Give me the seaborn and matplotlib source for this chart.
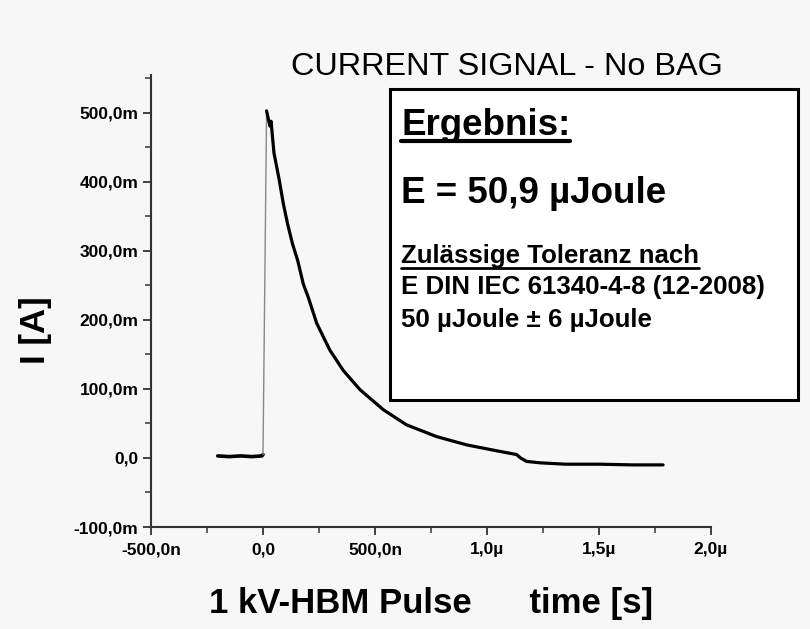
import matplotlib
matplotlib.use("Agg")
import matplotlib.pyplot as plt
from matplotlib.patches import Rectangle
from matplotlib.lines import Line2D
from matplotlib.ticker import FixedLocator, MultipleLocator
import seaborn as sns
import pandas as pd

# waveform: time in ns, current in mA
time_ns = [-202, -150, -100, -50, -5, 0, 16, 24, 31, 36, 49, 73, 91, 110, 132, 155,
           180, 202, 240, 299, 358, 433, 537, 641, 775, 909, 1058, 1132, 1150,
           1177, 1237, 1350, 1500, 1650, 1786]
current_mA = [3, 2, 3, 2, 3, 5, 503, 491, 481, 488, 442, 402, 368, 339, 310, 286,
              252, 233, 195, 156, 127, 99, 70, 48, 31, 19, 9.5, 5, 0,
              -5, -7, -9, -9, -10, -10]

x_ticks = [-500, 0, 500, 1000, 1500, 2000]
x_tick_labels = ["-500,0n", "0,0", "500,0n", "1,0µ", "1,5µ", "2,0µ"]
y_ticks = [-100, 0, 100, 200, 300, 400, 500]
y_tick_labels = ["-100,0m", "0,0", "100,0m", "200,0m", "300,0m", "400,0m", "500,0m"]

title = "CURRENT SIGNAL - No BAG"
result_head = "Ergebnis:"
result_value = "E = 50,9 µJoule"
tol_head = "Zulässige Toleranz nach"
tol_lines = ["E DIN IEC 61340-4-8 (12-2008)", "50 µJoule ± 6 µJoule"]

W, H = 810, 629
BG = "#f7f7f7"

sns.set_style("ticks")
plt.rcParams["font.family"] = ["Liberation Sans", "DejaVu Sans"]
plt.rcParams["text.color"] = "black"

df = pd.DataFrame({"t": time_ns, "i": current_mA})
rise = df.iloc[5:7]

fig = plt.figure(figsize=(W / 100, H / 100), dpi=100, facecolor=BG)
ax = fig.add_axes([151 / W, 1 - 527 / H, (711 - 151) / W, (527 - 75) / H], facecolor=BG)

# pre-trigger baseline and the decaying pulse drawn thick (noisy band), rising edge thin
sns.lineplot(data=df.iloc[:6], x="t", y="i", sort=False, estimator=None,
             color="black", lw=2.6, ax=ax)
sns.lineplot(data=rise, x="t", y="i", sort=False, estimator=None,
             color="#888888", lw=1.0, ax=ax)
sns.lineplot(data=df.iloc[6:], x="t", y="i", sort=False, estimator=None,
             color="black", lw=2.3, ax=ax)

ax.set_xlim(-500, 2000)
ax.set_ylim(-100, 555)
for side in ["top", "right"]:
    ax.spines[side].set_visible(False)
for side in ["left", "bottom"]:
    ax.spines[side].set_color("#333333")
    ax.spines[side].set_linewidth(1.5)

tick_font = dict(weight="bold", size=12.5, color="black")
ax.xaxis.set_major_locator(FixedLocator(x_ticks))
ax.xaxis.set_minor_locator(MultipleLocator(250))
ax.yaxis.set_major_locator(FixedLocator(y_ticks))
ax.yaxis.set_minor_locator(MultipleLocator(50))
ax.set_xticklabels(x_tick_labels, fontdict=tick_font)
ax.set_yticklabels(y_tick_labels, fontdict=tick_font)
ax.tick_params(which="major", direction="out", length=6, width=1.3, color="#333333")
ax.tick_params(axis="x", which="major", pad=5)
ax.tick_params(axis="y", which="major", pad=3)
ax.tick_params(which="minor", direction="out", length=4, width=1.1, color="#333333")
ax.set_xlabel("")
ax.set_ylabel("")

fig.text(35 / W, 1 - 330 / H, "I [A]", rotation=90, ha="center", va="center",
         fontsize=25, weight="bold")
fig.text(431 / W, 1 - 613 / H, "1 kV-HBM Pulse      time [s]", ha="center",
         va="baseline", fontsize=25, weight="bold")
fig.text(507 / W, 1 - 75 / H, title, ha="center", va="baseline", fontsize=23.3)

# result box
fig.patches.append(Rectangle((390 / W, 1 - 400 / H), (798 - 390) / W, (400 - 89) / H,
                             transform=fig.transFigure, facecolor="white",
                             edgecolor="black", lw=2.2, zorder=3))
x0 = 401 / W
t1 = fig.text(x0, 1 - 135 / H, result_head, fontsize=26.5, weight="bold",
              va="baseline", zorder=4)
fig.text(x0, 1 - 203 / H, result_value, fontsize=26.5, weight="bold", va="baseline", zorder=4)
t2 = fig.text(x0, 1 - 263 / H, tol_head, fontsize=18.6, weight="bold", va="baseline", zorder=4)
for k, line in enumerate(tol_lines):
    fig.text(x0, 1 - (294 + 33 * k) / H, line, fontsize=18.6, weight="bold",
             va="baseline", zorder=4)

# underline the two headings
renderer = fig.canvas.get_renderer()
for txt, y_px, lw in [(t1, 141, 3.0), (t2, 268, 2.0)]:
    bb = txt.get_window_extent(renderer=renderer)
    fig.add_artist(Line2D([bb.x0 / W, bb.x1 / W], [1 - y_px / H, 1 - y_px / H],
                          transform=fig.transFigure, color="black", lw=lw, zorder=4))

fig.savefig("out.png", dpi=100, facecolor=BG)
